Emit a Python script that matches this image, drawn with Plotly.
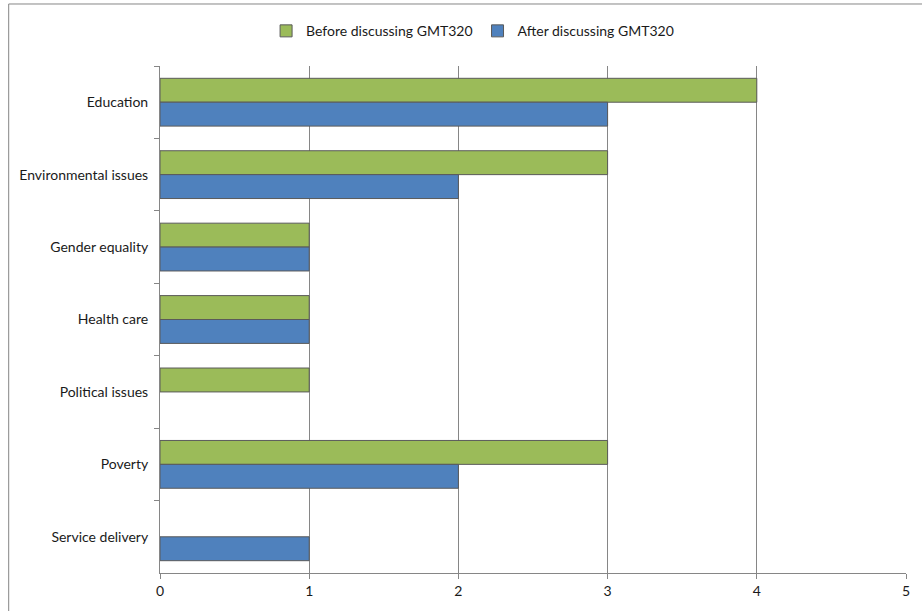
import plotly.graph_objects as go

categories = ["Education", "Environmental issues", "Gender equality", "Health care",
              "Political issues", "Poverty", "Service delivery"]
before_vals = [4, 3, 1, 1, 1, 3, 0]
after_vals = [3, 2, 1, 1, 0, 2, 1]
x_ticks = [0, 1, 2, 3, 4, 5]

FONT = "Lato"
FS = 14

def outline_widths(vals):
    return [1 if v else 0 for v in vals]

fig = go.Figure()
fig.add_trace(go.Bar(
    y=categories, x=before_vals, orientation="h", name="Before discussing GMT320",
    marker=dict(color="#9BBB59", line=dict(color="#5a5a5a", width=outline_widths(before_vals))),
))
fig.add_trace(go.Bar(
    y=categories, x=after_vals, orientation="h", name="After discussing GMT320",
    marker=dict(color="#4F81BD", line=dict(color="#5a5a5a", width=outline_widths(after_vals))),
))

L, R, T, B = 160, 15, 66, 34
W, H = 922, 611
pw, ph = W - L - R, H - T - B

def px_to_paper_x(p):
    return (p - L) / pw

def px_to_paper_y(p):
    return (H - B - p) / ph

fig.update_layout(
    width=W, height=H,
    margin=dict(l=L, r=R, t=T, b=B),
    paper_bgcolor="white", plot_bgcolor="white",
    barmode="group", bargap=0.34, bargroupgap=0,
    font=dict(family=FONT, size=FS, color="#1a1a1a"),
    legend=dict(orientation="h", x=px_to_paper_x(473), xanchor="center", y=px_to_paper_y(31),
                yanchor="middle", font=dict(family=FONT, size=FS, color="#1a1a1a"),
                traceorder="normal", itemwidth=30),
    xaxis=dict(range=[0, 5], tickvals=x_ticks, ticks="outside", ticklen=5, tickcolor="#868686",
               showgrid=True, gridcolor="#868686", gridwidth=1, showline=True, linecolor="#868686",
               zeroline=False, fixedrange=True),
    yaxis=dict(autorange="reversed", ticks="outside", tickson="boundaries", ticklen=5,
               tickcolor="#868686", showline=True, linecolor="#868686", showgrid=False,
               ticklabelstandoff=8, fixedrange=True),
    shapes=[dict(type="rect", xref="paper", yref="paper",
                 x0=px_to_paper_x(8.5), x1=px_to_paper_x(930),
                 y0=px_to_paper_y(620), y1=px_to_paper_y(3.5),
                 line=dict(color="#868686", width=1), fillcolor="rgba(0,0,0,0)", layer="below")],
)

fig.write_html("out.html")
